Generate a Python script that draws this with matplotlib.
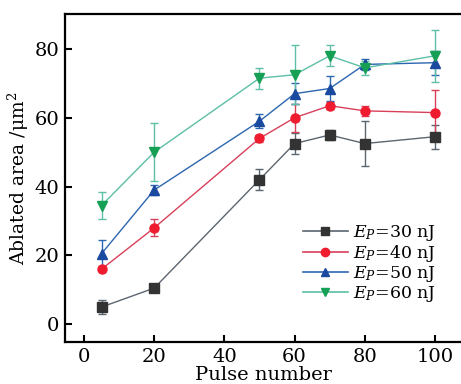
import matplotlib
matplotlib.use("Agg")
import matplotlib.pyplot as plt
from matplotlib.lines import Line2D

plt.rcParams['font.family'] = 'DejaVu Serif'
plt.rcParams['mathtext.fontset'] = 'dejavuserif'

pulses = [5, 20, 50, 60, 70, 80, 100]

area_30 = [5, 10.5, 42, 52.5, 55, 52.5, 54.5]
err_30 = [2, 0.3, 3, 3, 1.5, 6.5, 3.5]
area_40 = [16, 28, 54, 60, 63.5, 62, 61.5]
err_40 = [0.5, 2.5, 1, 4, 1, 1.5, 6.5]
area_50 = [20.5, 39, 59, 67, 68.5, 75.5, 76]
err_50 = [4, 1.5, 2, 3, 3.5, 1.5, 3.5]
area_60 = [34.5, 50, 71.5, 72.5, 78, 74.5, 78]
err_60 = [4, 8.5, 3, 8.5, 3, 2, 7.5]

labels = [r'$E_P$=30 nJ', r'$E_P$=40 nJ', r'$E_P$=50 nJ', r'$E_P$=60 nJ']

fig = plt.figure(figsize=(4.61, 3.84), dpi=100)
ax = fig.add_axes([0.141, 0.109, 0.859, 0.855])

series = [
    (area_30, err_30, 's', '#5b6670', '#333333'),
    (area_40, err_40, 'o', '#d8405a', '#ee1c2e'),
    (area_50, err_50, '^', '#2c66b0', '#1a4aa0'),
    (area_60, err_60, 'v', '#5cbfa6', '#15a055'),
]

handles = []
for (y, e, m, lc, mc), lab in zip(series, labels):
    ax.errorbar(pulses, y, yerr=e, fmt='-', marker=m, color=lc, ecolor=lc,
                mfc=mc, mec=mc, ms=6.5, lw=1, elinewidth=1, capsize=3,
                capthick=1)
    handles.append(Line2D([], [], color=lc, lw=1.2, marker=m, mfc=mc,
                          mec=mc, ms=6, label=lab))

ax.set_xlim(-5.4, 107.4)
ax.set_ylim(-5.2, 90.2)
ax.set_xticks([0, 20, 40, 60, 80, 100])
ax.set_yticks([0, 20, 40, 60, 80])
ax.spines['right'].set_visible(False)
for s in ['left', 'top', 'bottom']:
    ax.spines[s].set_linewidth(1.6)
ax.tick_params(direction='in', length=5, width=1.5, labelsize=14, pad=4)
ax.tick_params(axis='y', right=False)

ax.set_xlabel('Pulse number', fontsize=14, labelpad=0)
ax.set_ylabel('Ablated area /μm$^2$', fontsize=13.5, labelpad=3)

ax.legend(handles=handles, loc='lower right', bbox_to_anchor=(0.955, 0.095),
          frameon=False, fontsize=12.5, handlelength=2.6, handletextpad=0.3,
          labelspacing=0.0, borderaxespad=0)

fig.savefig('out.png', dpi=100)
